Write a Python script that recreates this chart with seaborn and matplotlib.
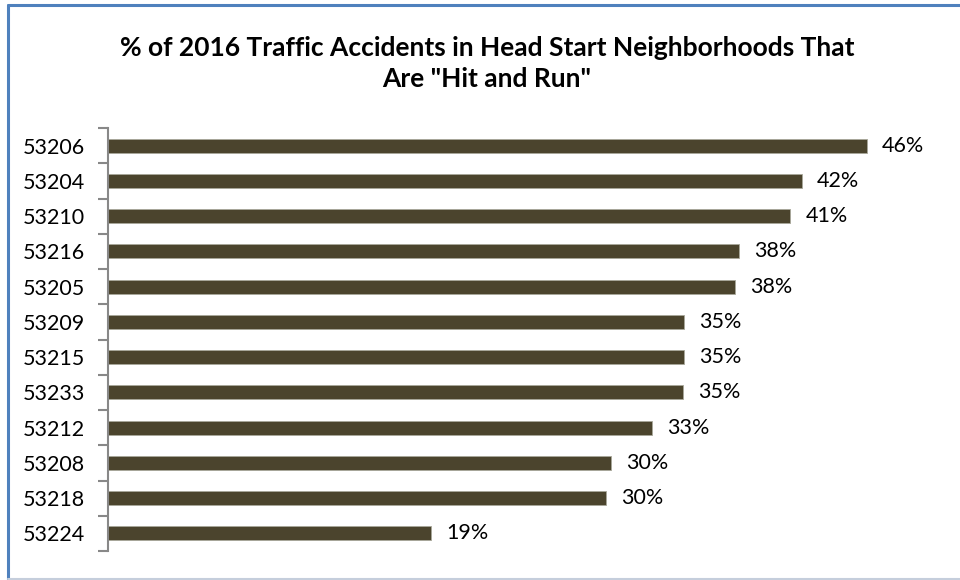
import matplotlib
matplotlib.use("Agg")
import matplotlib.pyplot as plt
from matplotlib.lines import Line2D
import seaborn as sns
import pandas as pd

# Zip codes of Head Start neighborhoods and share of 2016 accidents that were hit and run (%)
zip_codes = ["53206", "53204", "53210", "53216", "53205", "53209",
             "53215", "53233", "53212", "53208", "53218", "53224"]
hit_and_run_pct = [45.6, 41.7, 41.0, 37.9, 37.7, 34.6,
                   34.6, 34.55, 32.7, 30.2, 29.9, 19.4]

title_text = '% of 2016 Traffic Accidents in Head Start Neighborhoods That\nAre "Hit and Run"'

df = pd.DataFrame({"zip": zip_codes, "pct": hit_and_run_pct})

sns.set_theme(style="white")
plt.rcParams["font.family"] = ["Lato", "DejaVu Sans"]

W, H = 960, 580
fig = plt.figure(figsize=(W / 100, H / 100), dpi=100)
ax = fig.add_axes([108 / W, 1 - 551 / H, (940 - 108) / W, (551 - 128) / H])

bar_color = "#4b442d"
sns.barplot(data=df, x="pct", y="zip", orient="h", color=bar_color,
            saturation=1, width=0.4, edgecolor="#a8a89a", linewidth=0.6, ax=ax)

ax.set_xlim(0, 50)
ax.set_ylim(len(zip_codes) - 0.5, -0.5)
ax.set_xlabel("")
ax.set_ylabel("")
ax.set_xticks([])

# category labels at bar centres, tick marks at category boundaries
ax.tick_params(axis="y", which="major", left=False, length=0, pad=16.5,
               labelsize=15.5, labelcolor="#000000")
ax.set_yticks([i - 0.5 for i in range(len(zip_codes) + 1)], minor=True)
ax.tick_params(axis="y", which="minor", left=True, length=7, width=1.5,
               color="#888888", direction="out")

for side in ["top", "right", "bottom"]:
    ax.spines[side].set_visible(False)
ax.spines["left"].set_color("#888888")
ax.spines["left"].set_linewidth(1.5)

for i, v in enumerate(hit_and_run_pct):
    ax.annotate(f"{v:.0f}%", xy=(v, i), xytext=(11, 0), textcoords="offset points",
                ha="left", va="center", fontsize=15.5, color="#000000")

fig.text(487 / W, 1 - 36 / H, title_text, ha="center", va="top",
         fontsize=19, fontweight="bold", color="#000000", linespacing=1.33)

# chart frame
fig.add_artist(Line2D([7.5 / W, 1], [1 - 4.5 / H, 1 - 4.5 / H], color="#4f81bd", lw=2.2,
                      transform=fig.transFigure))
fig.add_artist(Line2D([7.5 / W, 7.5 / W], [1 - 4.5 / H, 1 - 579 / H], color="#4f81bd", lw=2.2,
                      transform=fig.transFigure))
fig.add_artist(Line2D([7.5 / W, 1], [1 - 579 / H, 1 - 579 / H], color="#c5cedc", lw=1.5,
                      transform=fig.transFigure))

fig.savefig("out.png", dpi=100, facecolor="white")
